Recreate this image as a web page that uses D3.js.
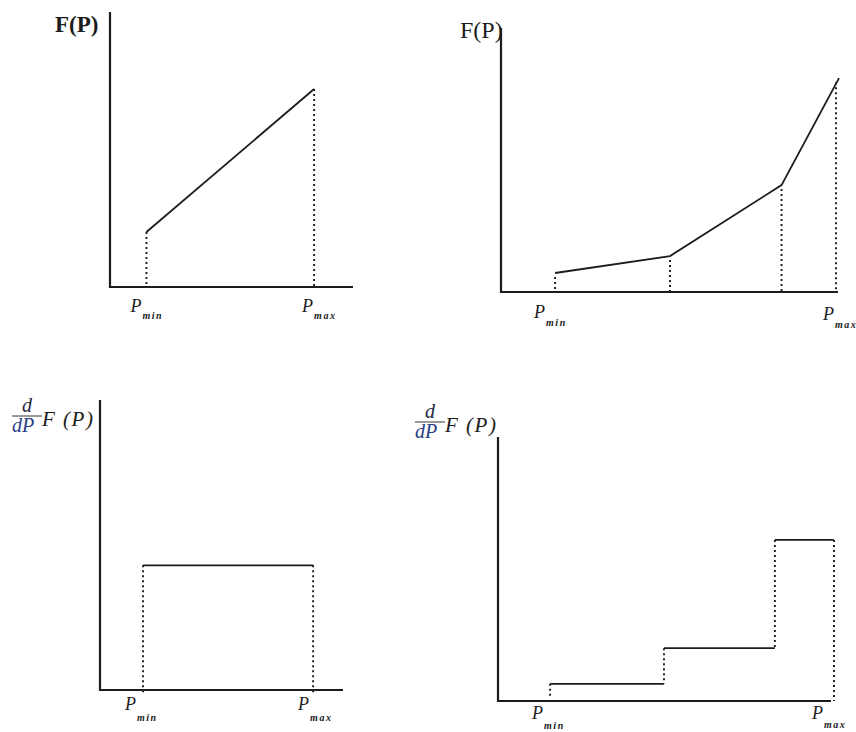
<!DOCTYPE html>
<html>
<head>
<meta charset="utf-8">
<script src="https://cdn.jsdelivr.net/npm/d3@7"></script>
<style>
  html, body { margin: 0; padding: 0; background: #fff; }
  svg { display: block; }
</style>
</head>
<body>
<svg id="chart" width="856" height="732"></svg>
<script>
// ---------- DATA ----------
// Panel A: linear cost function F(P)
const linearP = [1.5, 8.4];
const linearF = [2.0, 7.2];
// Panel B: piecewise linear (convex) F(P)
const pieceP = [1.6, 5.0, 8.3, 10.0];
const pieceF = [0.72, 1.36, 4.05, 8.1];
// Panel C: constant derivative dF/dP
const constEdges = [1.77, 8.77];
const constHeights = [4.3];
// Panel D: stepped derivative dF/dP
const stepEdges = [1.55, 4.94, 8.24, 10.0];
const stepHeights = [0.65, 2.0, 6.1];
// Tick labels
const tickMin = { base: "P", sub: "min" };
const tickMax = { base: "P", sub: "max" };

// ---------- LAYOUT ----------
const svg = d3.select("#chart");
const ink = "#1c1c1c";
const serif = "Liberation Serif, 'DejaVu Serif', serif";

const panels = [
  { ox: 110, oy: 287, xEnd: 353, yTop: 12 },
  { ox: 501, oy: 292, xEnd: 839, yTop: 28 },
  { ox: 100, oy: 690, xEnd: 343, yTop: 400 },
  { ox: 498, oy: 701, xEnd: 834, yTop: 437 }
];

function makeScales(p) {
  const x = d3.scaleLinear().domain([0, 10]).range([p.ox, p.xEnd]);
  const y = d3.scaleLinear().domain([0, 10]).range([p.oy, p.yTop]);
  return { x, y };
}

function drawAxes(g, p, xLineEnd, yLineTop) {
  g.append("line")
    .attr("x1", p.ox).attr("x2", p.ox)
    .attr("y1", yLineTop).attr("y2", p.oy + 1)
    .attr("stroke", ink).attr("stroke-width", 2.2);
  g.append("line")
    .attr("x1", p.ox - 1).attr("x2", xLineEnd)
    .attr("y1", p.oy).attr("y2", p.oy)
    .attr("stroke", ink).attr("stroke-width", 2.2);
}

function dotted(g, x, y1, y2) {
  g.append("line")
    .attr("x1", x).attr("x2", x)
    .attr("y1", y1).attr("y2", y2)
    .attr("stroke", ink).attr("stroke-width", 1.9)
    .attr("stroke-dasharray", "2,3");
}

function tickLabel(g, t, x, y, subDx, subDy, size, subSize) {
  const tx = g.append("text")
    .attr("x", x).attr("y", y)
    .attr("font-family", serif)
    .attr("font-style", "italic")
    .attr("font-size", size)
    .attr("fill", ink);
  tx.append("tspan").text(t.base);
  tx.append("tspan")
    .attr("dx", subDx).attr("dy", subDy)
    .attr("font-size", subSize)
    .attr("font-weight", "bold")
    .attr("letter-spacing", 1.5)
    .text(t.sub);
}

function derivLabel(g, x, y) {
  // x,y : left edge and baseline of the "dP" row
  g.append("text").attr("x", x + 15).attr("y", y - 20)
    .attr("text-anchor", "middle")
    .attr("font-family", serif).attr("font-style", "italic")
    .attr("font-size", 20).attr("fill", "#1f2a44").text("d");
  g.append("line")
    .attr("x1", x).attr("x2", x + 30)
    .attr("y1", y - 16).attr("y2", y - 16)
    .attr("stroke", "#333").attr("stroke-width", 1);
  g.append("text").attr("x", x).attr("y", y)
    .attr("font-family", serif).attr("font-style", "italic")
    .attr("font-size", 20).attr("fill", "#2a3f86").text("dP");
  g.append("text").attr("x", x + 30).attr("y", y - 6)
    .attr("font-family", serif).attr("font-style", "italic")
    .attr("font-size", 21).attr("fill", ink)
    .attr("letter-spacing", 1.5)
    .attr("xml:space", "preserve")
    .text("F (P)");
}

const lineGen = (s) => d3.line().x(d => s.x(d[0])).y(d => s.y(d[1]));

// ---------- PANEL A ----------
{
  const p = panels[0];
  const s = makeScales(p);
  const g = svg.append("g");
  drawAxes(g, p, 353, 12);
  const pts = linearP.map((v, i) => [v, linearF[i]]);
  pts.forEach(d => dotted(g, s.x(d[0]), s.y(d[1]), p.oy));
  g.append("path").datum(pts).attr("d", lineGen(s))
    .attr("fill", "none").attr("stroke", ink).attr("stroke-width", 1.8);
  g.append("text").attr("x", 55).attr("y", 32)
    .attr("font-family", serif)
    .attr("font-weight", "bold").attr("font-size", 23).attr("fill", ink)
    .text("F(P)");
  tickLabel(g, tickMin, s.x(linearP[0]) - 16, 312, 1, 7, 18, 10);
  tickLabel(g, tickMax, s.x(linearP[1]) - 12, 312, 1, 7, 18, 10);
}

// ---------- PANEL B ----------
{
  const p = panels[1];
  const s = makeScales(p);
  const g = svg.append("g");
  drawAxes(g, p, 838, 28);
  const pts = pieceP.map((v, i) => [v, pieceF[i]]);
  pts.forEach(d => dotted(g, s.x(d[0]) - (d[0] === 10 ? 3 : 0), s.y(d[1]) + 4, p.oy));
  g.append("path").datum(pts).attr("d", lineGen(s))
    .attr("fill", "none").attr("stroke", ink).attr("stroke-width", 1.8);
  g.append("text").attr("x", 460).attr("y", 38)
    .attr("font-family", serif)
    .attr("font-size", 24).attr("fill", ink)
    .text("F(P)");
  tickLabel(g, tickMin, s.x(pieceP[0]) - 21, 318, 1, 8, 18, 10);
  tickLabel(g, tickMax, s.x(pieceP[3]) - 16, 320, 1, 8, 18, 10);
}

// ---------- PANEL C ----------
{
  const p = panels[2];
  const s = makeScales(p);
  const g = svg.append("g");
  drawAxes(g, p, 343, 400);
  const prev = [0].concat(constHeights);
  const next = constHeights.concat([0]);
  constEdges.forEach((e, i) => dotted(g, s.x(e), s.y(Math.max(prev[i], next[i])), s.y(Math.min(prev[i], next[i])) + 4));
  constHeights.forEach((h, i) => {
    g.append("line")
      .attr("x1", s.x(constEdges[i])).attr("x2", s.x(constEdges[i + 1]))
      .attr("y1", s.y(h)).attr("y2", s.y(h))
      .attr("stroke", ink).attr("stroke-width", 1.8);
  });
  derivLabel(g, 12, 432);
  tickLabel(g, tickMin, s.x(constEdges[0]) - 18, 710, 1, 11, 18, 10);
  tickLabel(g, tickMax, s.x(constEdges[1]) - 15, 710, 1, 11, 18, 10);
}

// ---------- PANEL D ----------
{
  const p = panels[3];
  const s = makeScales(p);
  const g = svg.append("g");
  drawAxes(g, p, 831, 437);
  const prev = [0].concat(stepHeights);
  const next = stepHeights.concat([0]);
  stepEdges.forEach((e, i) => dotted(g, s.x(e), s.y(Math.max(prev[i], next[i])), s.y(Math.min(prev[i], next[i])) + (i === 0 ? -4 : 0)));
  stepHeights.forEach((h, i) => {
    g.append("line")
      .attr("x1", s.x(stepEdges[i])).attr("x2", s.x(stepEdges[i + 1]))
      .attr("y1", s.y(h)).attr("y2", s.y(h))
      .attr("stroke", ink).attr("stroke-width", 1.8);
  });
  derivLabel(g, 415, 438);
  tickLabel(g, tickMin, s.x(stepEdges[0]) - 18, 719, 1, 10, 18, 10);
  tickLabel(g, tickMax, s.x(stepEdges[3]) - 22, 719, 1, 9, 18, 10);
}
</script>
</body>
</html>
